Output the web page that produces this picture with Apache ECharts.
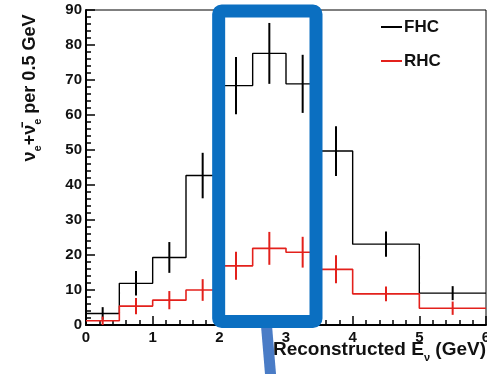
<!DOCTYPE html>
<html>
<head>
<meta charset="utf-8">
<script src="https://cdn.jsdelivr.net/npm/echarts@6/dist/echarts.min.js"></script>
<style>
  html, body { margin: 0; padding: 0; background: #fff; }
  #main { width: 487px; height: 374px; }
</style>
</head>
<body>
<div id="main"></div>
<script>
// bin edges (GeV) - 0.5 GeV bins up to 4, then 1 GeV bins
var binEdges = [0, 0.5, 1, 1.5, 2, 2.5, 3, 3.5, 4, 5, 6];
var fhcValues = [3.3, 11.9, 19.3, 42.7, 68.4, 77.6, 68.9, 49.7, 23.1, 9.1];
var fhcErrors = [1.8, 3.5, 4.4, 6.5, 8.2, 8.7, 8.3, 7.1, 3.6, 2.0];
var rhcValues = [1.2, 5.4, 7.1, 10.0, 16.9, 21.9, 20.8, 15.9, 8.9, 4.8];
var rhcErrors = [1.2, 2.3, 2.6, 3.1, 4.0, 4.7, 4.4, 4.0, 2.1, 1.9];
var highlightX = [1.99, 3.45];
var highlightY = [1.0, 89.7];

var chartDom = document.getElementById('main');
var myChart = echarts.init(chartDom);

function stepData(vals) {
    return binEdges.map(function (e, i) {
        return [e, vals[Math.min(i, vals.length - 1)]];
    });
}
function errData(vals, errs) {
    return vals.map(function (v, i) {
        return [(binEdges[i] + binEdges[i + 1]) / 2, v - errs[i], v + errs[i]];
    });
}
function errRender(color) {
    return function (params, api) {
        var p1 = api.coord([api.value(0), api.value(1)]);
        var p2 = api.coord([api.value(0), api.value(2)]);
        return {
            type: 'line',
            shape: { x1: p1[0], y1: p1[1], x2: p2[0], y2: p2[1] },
            style: { stroke: color, lineWidth: 2 }
        };
    };
}

var labelFont = { color: '#111', fontFamily: 'Liberation Sans', fontWeight: 'bold', fontSize: 15 };

var option = {
    animation: false,
    grid: {
        left: 86, right: 1, top: 10, bottom: 49,
        outerBoundsMode: 'none',
        show: true, borderColor: '#000', borderWidth: 1
    },
    legend: {
        data: [{ name: 'FHC', icon: 'rect' }, { name: 'RHC', icon: 'rect' }],
        orient: 'vertical',
        left: 376,
        top: 12,
        itemWidth: 21,
        itemHeight: 2,
        itemGap: 14,
        textStyle: { color: '#111', fontFamily: 'Liberation Sans', fontWeight: 'bold', fontSize: 17, lineHeight: 20, padding: [0, 0, 0, -3] }
    },
    xAxis: {
        type: 'value',
        min: 0,
        max: 6,
        interval: 1,
        axisLine: { lineStyle: { color: '#000', width: 2 } },
        axisTick: { inside: true, length: 9, lineStyle: { color: '#000', width: 1.5 } },
        minorTick: { show: true, splitNumber: 5, length: 5, lineStyle: { color: '#000', width: 1.5 } },
        splitLine: { show: false },
        axisLabel: Object.assign({ margin: 5 }, labelFont)
    },
    yAxis: {
        type: 'value',
        min: 0,
        max: 90,
        interval: 10,
        axisLine: { show: true, lineStyle: { color: '#000', width: 2 } },
        axisTick: { show: true, inside: true, length: 9, lineStyle: { color: '#000', width: 1.5 } },
        minorTick: { show: true, splitNumber: 5, length: 5, lineStyle: { color: '#000', width: 1.5 } },
        splitLine: { show: false },
        axisLabel: Object.assign({ margin: 4 }, labelFont)
    },
    series: [
        {
            name: 'FHC',
            type: 'line',
            step: 'end',
            symbol: 'none',
            data: stepData(fhcValues),
            lineStyle: { color: '#000', width: 1.4 },
            itemStyle: { color: '#000' }
        },
        {
            name: 'RHC',
            type: 'line',
            step: 'end',
            symbol: 'none',
            data: stepData(rhcValues),
            lineStyle: { color: '#e3211c', width: 1.6 },
            itemStyle: { color: '#e3211c' }
        },
        {
            name: 'FHC err',
            type: 'custom',
            renderItem: errRender('#000'),
            data: errData(fhcValues, fhcErrors),
            z: 3
        },
        {
            name: 'RHC err',
            type: 'custom',
            renderItem: errRender('#e3211c'),
            data: errData(rhcValues, rhcErrors),
            z: 3
        }
    ]
};
myChart.setOption(option);

// highlight box + pointer, placed through the axis scales
var tl = myChart.convertToPixel({ gridIndex: 0 }, [highlightX[0], highlightY[1]]);
var br = myChart.convertToPixel({ gridIndex: 0 }, [highlightX[1], highlightY[0]]);
var pointerTop = myChart.convertToPixel({ gridIndex: 0 }, [2.7, 0]);

myChart.setOption({
    graphic: [
        {
            type: 'text',
            x: 29, y: 88,
            rotation: Math.PI / 2,
            style: {
                text: '{a|ν}{b|e}{a|+ν̄}{b|e}{a| per 0.5 GeV}',
                textAlign: 'center',
                textVerticalAlign: 'middle',
                fill: '#111',
                rich: {
                    a: { fontFamily: 'Liberation Sans', fontWeight: 'bold', fontSize: 18, lineHeight: 21, verticalAlign: 'bottom' },
                    b: { fontFamily: 'Liberation Sans', fontWeight: 'bold', fontSize: 11, lineHeight: 15, verticalAlign: 'bottom', padding: [0, 0, -4, 0] }
                }
            },
            z: 50
        },
        {
            type: 'text',
            x: 486, y: 348,
            style: {
                text: '{a|Reconstructed E}{b|ν}{a| (GeV)}',
                textAlign: 'right',
                textVerticalAlign: 'middle',
                fill: '#111',
                rich: {
                    a: { fontFamily: 'Liberation Sans', fontWeight: 'bold', fontSize: 19, lineHeight: 22, verticalAlign: 'bottom' },
                    b: { fontFamily: 'Liberation Sans', fontWeight: 'bold', fontSize: 11, lineHeight: 14, verticalAlign: 'bottom', padding: [0, 0, -4, 0] }
                }
            },
            z: 50
        },
        {
            type: 'line',
            shape: { x1: pointerTop[0], y1: br[1] - 2, x2: pointerTop[0] + 5, y2: 380 },
            style: { stroke: '#4a7cc6', lineWidth: 11 },
            z: 60
        },
        {
            type: 'rect',
            shape: { x: tl[0], y: tl[1], width: br[0] - tl[0], height: br[1] - tl[1], r: 3 },
            style: { fill: 'none', stroke: '#0b6fc1', lineWidth: 13 },
            z: 70
        }
    ]
});
</script>
</body>
</html>
